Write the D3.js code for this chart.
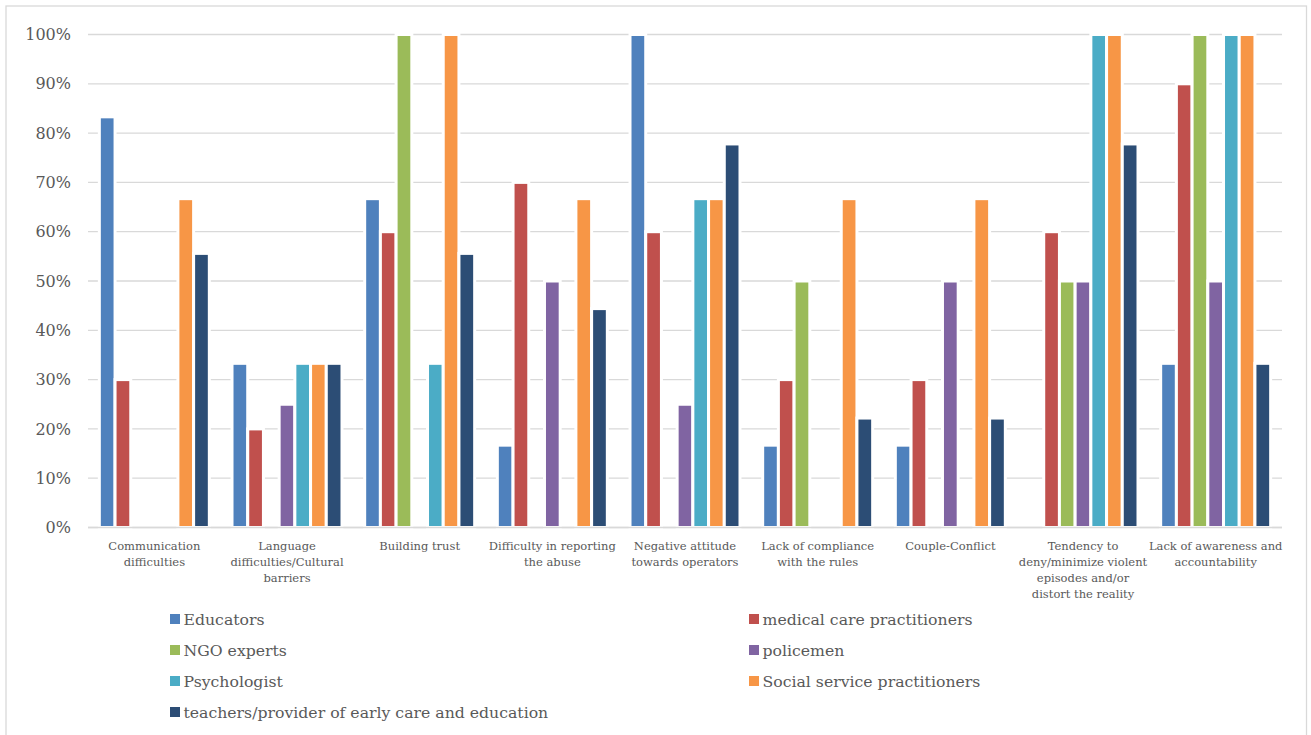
<!DOCTYPE html>
<html>
<head>
<meta charset="utf-8">
<script src="https://cdn.jsdelivr.net/npm/d3@7"></script>
<style>
  html, body { margin: 0; padding: 0; background: #fff; }
  svg { display: block; }
  text { font-family: "DejaVu Serif", "Liberation Serif", serif; fill: #595959; }
</style>
</head>
<body>
<svg id="chart" width="1311" height="735"></svg>
<script>
// Problem areas reported, share of respondents per professional group.
// Category labels, already broken into the lines shown under the axis
const categoryLines = [
  ["Communication", "difficulties"],
  ["Language", "difficulties/Cultural", "barriers"],
  ["Building trust"],
  ["Difficulty in reporting", "the abuse"],
  ["Negative attitude", "towards operators"],
  ["Lack of compliance", "with the rules"],
  ["Couple-Conflict"],
  ["Tendency to", "deny/minimize violent", "episodes and/or", "distort the reality"],
  ["Lack of awareness and", "accountability"]
];
const categories = categoryLines.map(l => l.join(" "));

const seriesNames = [
  "Educators",
  "medical care practitioners",
  "NGO experts",
  "policemen",
  "Psychologist",
  "Social service practitioners",
  "teachers/provider of early care and education"
];

const seriesColors = ["#4F81BD", "#C0504D", "#9BBB59", "#8064A2", "#4BACC6", "#F79646", "#2C4D75"];

// values in %, one array per series, in category order
const educators   = [83.3, 33.3, 66.7, 16.7, 100, 16.7, 16.7, 0, 33.3];
const medical     = [30, 20, 60, 70, 60, 30, 30, 60, 90];
const ngo         = [0, 0, 100, 0, 0, 50, 0, 50, 100];
const policemen   = [0, 25, 0, 50, 25, 0, 50, 50, 50];
const psychologist= [0, 33.3, 33.3, 0, 66.7, 0, 0, 100, 100];
const socialSvc   = [66.7, 33.3, 100, 66.7, 66.7, 66.7, 66.7, 100, 100];
const teachers    = [55.6, 33.3, 55.6, 44.4, 77.8, 22.2, 22.2, 77.8, 33.3];

const seriesValues = [educators, medical, ngo, policemen, psychologist, socialSvc, teachers];

const yTicks = [0, 10, 20, 30, 40, 50, 60, 70, 80, 90, 100];

const svg = d3.select("#chart");
const FONT = "'DejaVu Serif', 'Liberation Serif', serif";

// outer chart frame
svg.append("rect")
  .attr("x", 6).attr("y", 6)
  .attr("width", 1300.5).attr("height", 740)
  .attr("fill", "#fff")
  .attr("stroke", "#d9d9d9").attr("stroke-width", 1.3);

const plot = { left: 88, right: 1282, top: 34.5, bottom: 527.5 };

const x0 = d3.scaleBand()
  .domain(categories)
  .range([plot.left, plot.right])
  .paddingInner(0.171)
  .paddingOuter(0.0855);

const x1 = d3.scaleBand()
  .domain(seriesNames)
  .range([0, x0.bandwidth()]);

const y = d3.scaleLinear().domain([0, 100]).range([plot.bottom, plot.top]);

// gridlines
svg.append("g")
  .selectAll("line")
  .data(yTicks)
  .join("line")
  .attr("x1", plot.left).attr("x2", plot.right)
  .attr("y1", d => y(d)).attr("y2", d => y(d))
  .attr("stroke", "#d9d9d9").attr("stroke-width", 1.3);

// y axis labels
const yAxis = d3.axisLeft(y)
  .tickValues(yTicks)
  .tickFormat(d => d + "%")
  .tickSize(0)
  .tickPadding(17);
const yg = svg.append("g").attr("transform", `translate(${plot.left},0)`).call(yAxis);
yg.select(".domain").remove();
yg.selectAll("text")
  .attr("font-size", 16)
  .attr("fill", "#595959")
  .style("font-family", FONT);

// bars, one group per category
const groups = svg.append("g")
  .selectAll("g")
  .data(categories)
  .join("g")
  .attr("transform", d => `translate(${x0(d)},0)`);

groups.selectAll("rect")
  .data((c, ci) => seriesNames.map((s, si) => ({ s, si, v: seriesValues[si][ci] })).filter(d => d.v > 0))
  .join("rect")
  .attr("x", d => x1(d.s))
  .attr("y", d => y(d.v))
  .attr("width", x1.bandwidth())
  .attr("height", d => y(0) - y(d.v))
  .attr("fill", d => seriesColors[d.si])
  .attr("stroke", "#fff")
  .attr("stroke-width", 3);

// x axis baseline
svg.append("line")
  .attr("x1", plot.left).attr("x2", plot.right)
  .attr("y1", y(0)).attr("y2", y(0))
  .attr("stroke", "#d9d9d9").attr("stroke-width", 1.3);

// category labels, multi-line
const xAxis = d3.axisBottom(x0).tickSize(0).tickPadding(0);
const xg = svg.append("g").attr("transform", `translate(0,${y(0)})`).call(xAxis);
xg.select(".domain").remove();
xg.selectAll(".tick text").each(function(label, i) {
  const t = d3.select(this);
  t.text(null)
    .attr("font-size", 11.5)
    .attr("fill", "#595959")
    .attr("y", 0)
    .attr("dy", null)
    .style("font-family", FONT);
  categoryLines[i].forEach((l, k) => {
    t.append("tspan")
      .attr("x", 0)
      .attr("y", 22 + k * 16)
      .text(l);
  });
});

// legend, two columns
const legendCols = [170, 749];
const legendRows = [619, 650, 681, 712];
const legend = svg.append("g")
  .selectAll("g")
  .data(seriesNames)
  .join("g")
  .attr("transform", (d, i) => `translate(${legendCols[i % 2]},${legendRows[Math.floor(i / 2)]})`);

legend.append("rect")
  .attr("x", 0).attr("y", -5)
  .attr("width", 10).attr("height", 10)
  .attr("fill", (d, i) => seriesColors[i]);

legend.append("text")
  .attr("x", 13.5)
  .attr("y", 6)
  .attr("font-size", 15.7)
  .style("font-family", FONT)
  .text(d => d);
</script>
</body>
</html>
